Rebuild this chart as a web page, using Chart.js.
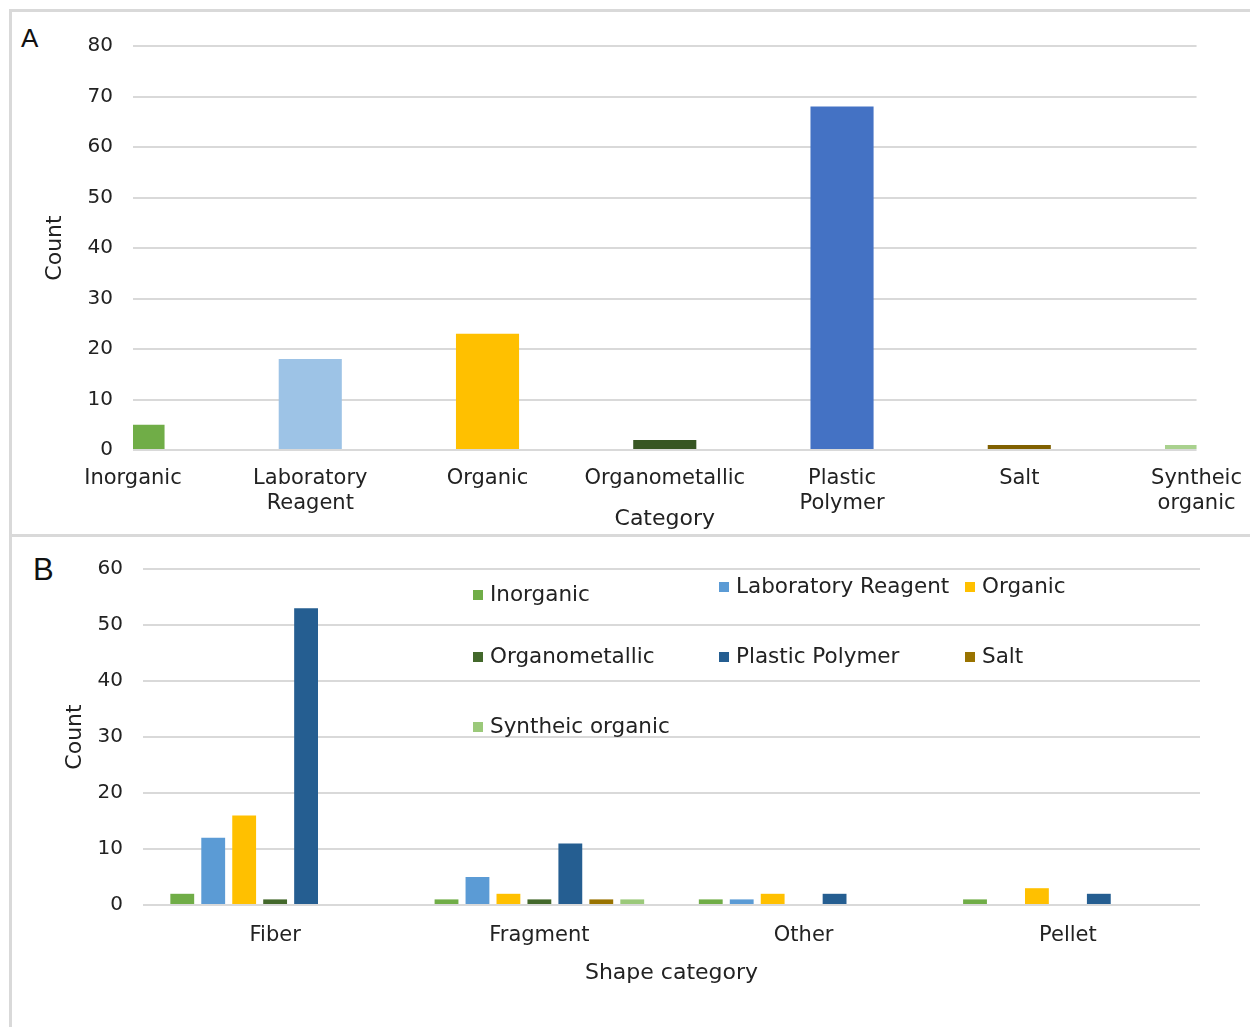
<!DOCTYPE html>
<html>
<head>
<meta charset="utf-8">
<script src="https://cdn.jsdelivr.net/npm/chart.js@4"></script>
<style>
  body { margin: 0; background: #fff; width: 1250px; height: 1027px; overflow: hidden; position: relative; }
  .frame { position: absolute; border: 3px solid #d9d9d9; box-sizing: border-box; }
  canvas { position: absolute; left: 0; }
  .tag { position: absolute; font-family: 'Liberation Sans', Arial, sans-serif; color: #111; }
</style>
</head>
<body>
<div class="frame" style="left:9px; top:9px; width:1270px; height:528px;"></div>
<div class="frame" style="left:9px; top:534px; width:1270px; height:600px;"></div>
<div class="tag" style="left:21px; top:23px; font-size:26px;">A</div>
<div class="tag" style="left:33px; top:552px; font-size:31px;">B</div>
<canvas id="chartA" width="1250" height="537" style="top:0"></canvas>
<canvas id="chartB" width="1250" height="490" style="top:537px"></canvas>
<script>
// Panel A: counts per chemical category
const categoriesA = ['Inorganic', ['Laboratory', 'Reagent'], 'Organic', 'Organometallic', ['Plastic', 'Polymer'], 'Salt', ['Syntheic', 'organic']];
const countsA = [5, 18, 23, 2, 68, 1, 1];
const colorsA = ['#70AD47', '#9DC3E6', '#FFC000', '#375623', '#4472C4', '#806000', '#A9D18E'];
const ticksA = [0, 10, 20, 30, 40, 50, 60, 70, 80];

// Panel B: counts per shape category, one series per chemical category
const shapes = ['Fiber', 'Fragment', 'Other', 'Pellet'];
const seriesNames = ['Inorganic', 'Laboratory Reagent', 'Organic', 'Organometallic', 'Plastic Polymer', 'Salt', 'Syntheic organic'];
const inorganic = [2, 1, 1, 1];
const labReagent = [12, 5, 1, 0];
const organic = [16, 2, 2, 3];
const organometallic = [1, 1, 0, 0];
const plasticPolymer = [53, 11, 2, 2];
const salt = [0, 1, 0, 0];
const synthOrganic = [0, 1, 0, 0];
const colorsB = ['#70AD47', '#5B9BD5', '#FFC000', '#43682B', '#255E91', '#997300', '#9BC97A'];
const ticksB = [0, 10, 20, 30, 40, 50, 60];

Chart.defaults.font.family = "'DejaVu Sans', sans-serif";
Chart.defaults.color = '#222';

const GRID = '#d9d9d9';

// Chart A
new Chart(document.getElementById('chartA'), {
  type: 'bar',
  data: {
    labels: categoriesA,
    datasets: [{
      data: countsA,
      backgroundColor: colorsA,
      barPercentage: 0.356,
      categoryPercentage: 1,
      clip: 0
    }]
  },
  options: {
    responsive: false,
    animation: false,
    layout: { padding: { left: 30, right: 53, top: 46, bottom: 1 } },
    plugins: { legend: { display: false }, tooltip: { enabled: false } },
    scales: {
      x: {
        offset: false,
        grid: { display: false },
        border: { display: false },
        ticks: { font: { size: 21 }, padding: 8, maxRotation: 0, autoSkip: false },
        title: { display: true, text: 'Category', font: { size: 22 }, padding: { top: 0, bottom: 4 } },
        afterFit: s => { s.height = 86; }
      },
      y: {
        min: 0, max: 80,
        afterBuildTicks: s => { s.ticks = ticksA.map(v => ({ value: v })); },
        grid: { color: GRID, lineWidth: 2, drawTicks: false },
        border: { display: false },
        ticks: { font: { size: 20 }, padding: 20 },
        title: { display: true, text: 'Count', font: { size: 22 }, padding: { top: 12, bottom: 0 } },
        afterFit: s => { s.width = 103; }
      }
    }
  }
});

// custom legend placed inside the plot area of panel B
const legendSpots = [[473, 58], [719, 50], [965, 50], [473, 120], [719, 120], [965, 120], [473, 190]];
const insideLegend = {
  id: 'insideLegend',
  afterDraw(chart) {
    const ctx = chart.ctx;
    ctx.save();
    ctx.font = "21.5px 'DejaVu Sans', sans-serif";
    ctx.textBaseline = 'middle';
    chart.data.datasets.forEach((ds, i) => {
      const [x, y] = legendSpots[i];
      ctx.fillStyle = ds.backgroundColor;
      ctx.fillRect(x, y - 5, 10, 10);
      ctx.fillStyle = '#222';
      ctx.fillText(ds.label, x + 17, y);
    });
    ctx.restore();
  }
};

const valuesB = [inorganic, labReagent, organic, organometallic, plasticPolymer, salt, synthOrganic];

new Chart(document.getElementById('chartB'), {
  type: 'bar',
  data: {
    labels: shapes,
    datasets: seriesNames.map((name, i) => ({
      label: name,
      data: valuesB[i],
      backgroundColor: colorsB[i],
      barPercentage: 0.77,
      categoryPercentage: 0.82
    }))
  },
  options: {
    responsive: false,
    animation: false,
    layout: { padding: { left: 50, right: 50, top: 30, bottom: 37 } },
    plugins: { legend: { display: false }, tooltip: { enabled: false } },
    scales: {
      x: {
        grid: { display: false },
        border: { display: false },
        ticks: { font: { size: 21 }, padding: 10, maxRotation: 0 },
        title: { display: true, text: 'Shape category', font: { size: 22 }, padding: { top: 0, bottom: 4 } },
        afterFit: s => { s.height = 85; }
      },
      y: {
        min: 0, max: 60,
        afterBuildTicks: s => { s.ticks = ticksB.map(v => ({ value: v })); },
        grid: { color: GRID, lineWidth: 2, drawTicks: false },
        border: { display: false },
        ticks: { font: { size: 20 }, padding: 20 },
        title: { display: true, text: 'Count', font: { size: 22 }, padding: { top: 12, bottom: 0 } },
        afterFit: s => { s.width = 93; }
      }
    }
  },
  plugins: [insideLegend]
});
</script>
</body>
</html>
